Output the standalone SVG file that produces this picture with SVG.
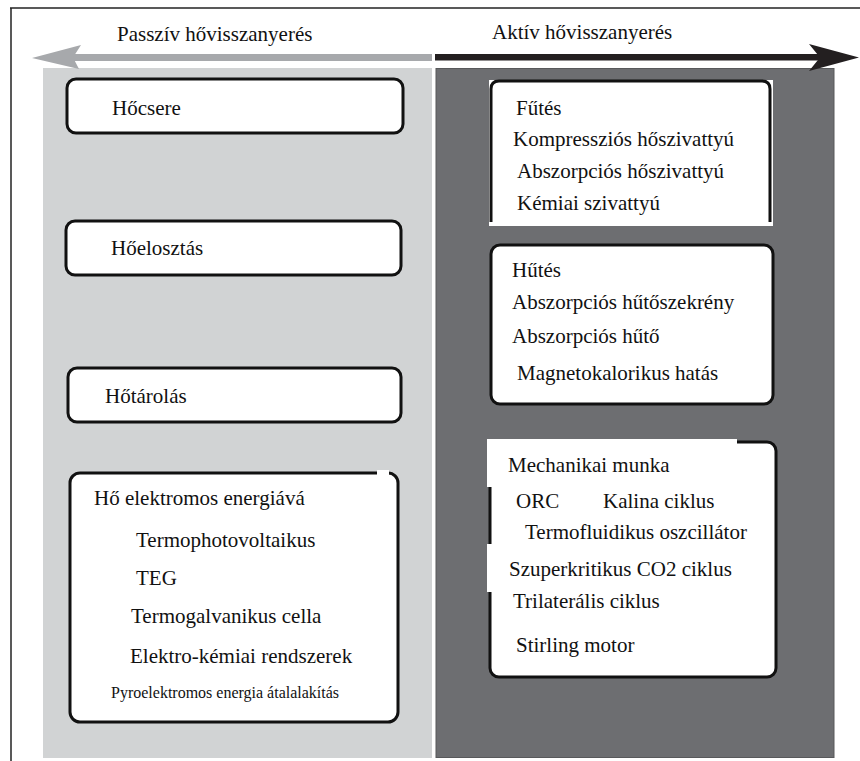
<svg xmlns="http://www.w3.org/2000/svg" width="860" height="761" viewBox="0 0 860 761">
<style>
text{font-family:"Liberation Serif","Times New Roman",serif;font-size:21px;fill:#111}
.sm{font-size:16px}
.box{fill:#fff;stroke:#111;stroke-width:3}
.wh{fill:#fff}
</style>
<rect x="0" y="0" width="860" height="761" fill="#fff"/>
<!-- frame -->
<g id="frame">
<line x1="10" y1="8" x2="860" y2="8" stroke="#222" stroke-width="1.5"/>
<line x1="11" y1="8" x2="11" y2="761" stroke="#222" stroke-width="1.5"/>
</g>
<!-- panels -->
<g id="panels">
<rect x="43" y="68" width="389" height="690" fill="#d1d3d4"/>
<rect x="436" y="68.5" width="398" height="689" fill="#6d6e71" stroke="#58595b" stroke-width="1"/>
</g>
<!-- arrows -->
<g id="arrows">
<rect x="70" y="54" width="362" height="7" fill="#a7a9ac"/>
<polygon points="32,58 81,45 73,57.5 79,69" fill="#a7a9ac"/>
<rect x="435" y="54" width="385" height="6.5" fill="#231f20"/>
<polygon points="859,57.5 809,44 820,57.5 809,71" fill="#231f20"/>
</g>
<!-- headers -->
<g id="header-passive">
<rect x="97" y="10" width="303" height="43" class="wh"/>
<text x="117" y="41">Passzív hővisszanyerés</text>
</g>
<g id="header-active">
<rect x="472" y="10" width="301" height="44" class="wh"/>
<text x="492" y="39">Aktív hővisszanyerés</text>
</g>
<!-- left nodes -->
<g id="node-hocsere">
<rect x="67" y="79" width="336" height="54" rx="9" class="box"/>
<text x="112" y="115">Hőcsere</text>
</g>
<g id="node-hoelosztas">
<rect x="66" y="221" width="335" height="54" rx="9" class="box"/>
<text x="111" y="255">Hőelosztás</text>
</g>
<g id="node-hotarolas">
<rect x="68" y="368" width="333" height="54" rx="9" class="box"/>
<text x="105" y="403">Hőtárolás</text>
</g>
<g id="node-elektromos">
<rect x="70" y="473" width="328" height="249" rx="10" class="box"/>
<rect x="377" y="470" width="12" height="6" class="wh"/>
<text x="94" y="505">Hő elektromos energiává</text>
<text x="136" y="547">Termophotovoltaikus</text>
<text x="136" y="585">TEG</text>
<text x="131" y="623">Termogalvanikus cella</text>
<text x="130" y="663">Elektro-kémiai rendszerek</text>
<text x="111" y="698" class="sm">Pyroelektromos energia átalalakítás</text>
</g>
<!-- right nodes -->
<g id="node-futes">
<rect x="489" y="80" width="284" height="146" class="wh"/>
<path d="M491,222 L491,89 Q491,81 499,81 L762,81 Q770,81 770,89 L770,222" fill="none" stroke="#111" stroke-width="3"/>
<text x="516" y="115">Fűtés</text>
<text x="513" y="146">Kompressziós hőszivattyú</text>
<text x="517" y="178">Abszorpciós hőszivattyú</text>
<text x="517" y="210">Kémiai szivattyú</text>
</g>
<g id="node-hutes">
<rect x="491" y="245" width="282" height="159" rx="9" class="box"/>
<text x="512" y="277">Hűtés</text>
<text x="512" y="309">Abszorpciós hűtőszekrény</text>
<text x="512" y="343">Abszorpciós hűtő</text>
<text x="517" y="380">Magnetokalorikus hatás</text>
</g>
<g id="node-mechanikai">
<rect x="490" y="442" width="286" height="235" rx="9" class="box"/>
<rect x="487" y="439" width="250" height="48" class="wh"/>
<rect x="487" y="544" width="8" height="48" class="wh"/>
<text x="508" y="472">Mechanikai munka</text>
<text x="516" y="508">ORC</text>
<text x="603" y="508">Kalina ciklus</text>
<text x="525" y="539">Termofluidikus oszcillátor</text>
<text x="509" y="576">Szuperkritikus CO2 ciklus</text>
<text x="513" y="608">Trilaterális ciklus</text>
<text x="516" y="652">Stirling motor</text>
</g>
</svg>
